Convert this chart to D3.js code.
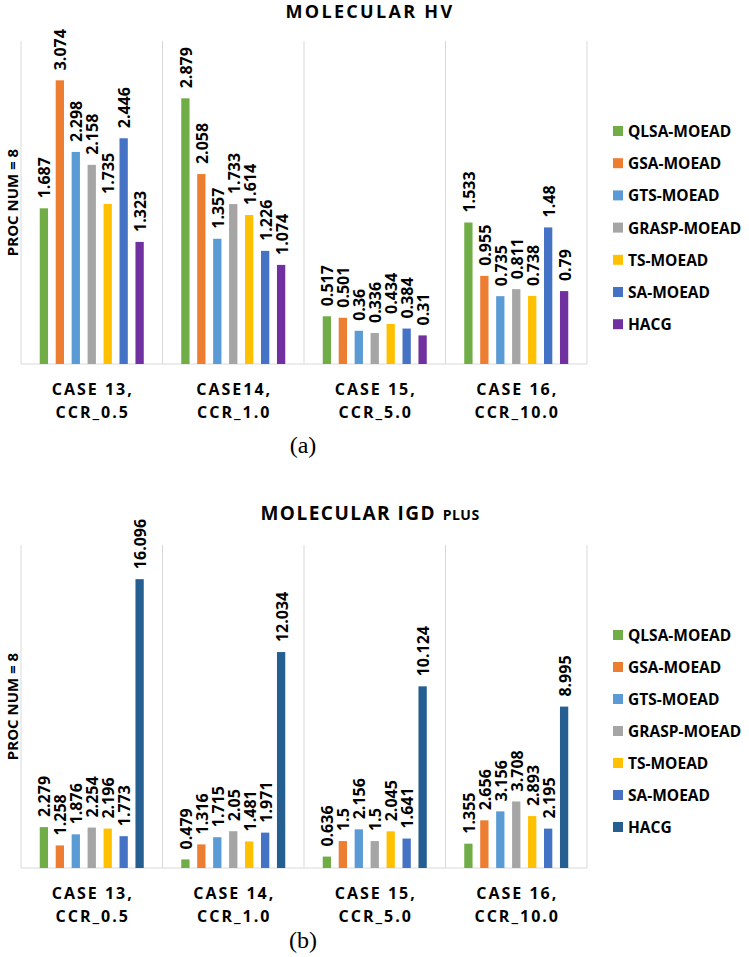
<!DOCTYPE html>
<html>
<head>
<meta charset="utf-8">
<script src="https://cdn.jsdelivr.net/npm/d3@7"></script>
<style>
  html, body { margin: 0; padding: 0; background: #fff; }
  svg { display: block; }
  text { font-family: "Open Sans", Lato, sans-serif; }
</style>
</head>
<body>
<svg id="chart" width="749" height="957"></svg>
<script>
// ---------- data ----------
const series = ["QLSA-MOEAD", "GSA-MOEAD", "GTS-MOEAD", "GRASP-MOEAD", "TS-MOEAD", "SA-MOEAD", "HACG"];

const categoriesHV  = [["CASE 13,", "CCR_0.5"], ["CASE14,", "CCR_1.0"], ["CASE 15,", "CCR_5.0"], ["CASE 16,", "CCR_10.0"]];
const categoriesIGD = [["CASE 13,", "CCR_0.5"], ["CASE 14,", "CCR_1.0"], ["CASE 15,", "CCR_5.0"], ["CASE 16,", "CCR_10.0"]];

const hvQLSA  = [1.687, 2.879, 0.517, 1.533];
const hvGSA   = [3.074, 2.058, 0.501, 0.955];
const hvGTS   = [2.298, 1.357, 0.36, 0.735];
const hvGRASP = [2.158, 1.733, 0.336, 0.811];
const hvTS    = [1.735, 1.614, 0.434, 0.738];
const hvSA    = [2.446, 1.226, 0.384, 1.48];
const hvHACG  = [1.323, 1.074, 0.31, 0.79];

const igdQLSA  = [2.279, 0.479, 0.636, 1.355];
const igdGSA   = [1.258, 1.316, 1.5, 2.656];
const igdGTS   = [1.876, 1.715, 2.156, 3.156];
const igdGRASP = [2.254, 2.05, 1.5, 3.708];
const igdTS    = [2.196, 1.481, 2.045, 2.893];
const igdSA    = [1.773, 1.971, 1.641, 2.195];
const igdHACG  = [16.096, 12.034, 10.124, 8.995];

const hvMax = 3.5;
const igdMax = 18;

const colorsHV  = ["#70AD47", "#ED7D31", "#5B9BD5", "#A5A5A5", "#FFC000", "#4472C4", "#7030A0"];
const colorsIGD = ["#70AD47", "#ED7D31", "#5B9BD5", "#A5A5A5", "#FFC000", "#4472C4", "#255E91"];

// ---------- drawing ----------
const svg = d3.select("#chart");

function drawChart(cfg) {
  const g = svg.append("g");
  const catKeys = cfg.categories.map(c => c.join(" "));
  const x0 = d3.scaleBand().domain(catKeys).range([21, 587]).paddingInner(0).paddingOuter(0);
  const x1 = d3.scaleBand().domain(series).range([0, x0.bandwidth()]).paddingInner(0.48).paddingOuter(1.175);
  const y = d3.scaleLinear().domain([0, cfg.max]).range([cfg.base, cfg.top]);

  // vertical category separators
  const seps = catKeys.map(k => x0(k)).concat([x0.range()[1]]);
  g.selectAll("line.sep").data(seps).join("line")
    .attr("x1", d => d).attr("x2", d => d)
    .attr("y1", y(cfg.max)).attr("y2", y(0))
    .attr("stroke", "#d9d9d9").attr("stroke-width", 1);
  // baseline
  g.append("line")
    .attr("x1", x0.range()[0]).attr("x2", x0.range()[1])
    .attr("y1", y(0)).attr("y2", y(0))
    .attr("stroke", "#d9d9d9").attr("stroke-width", 1.2);

  // bars + labels
  const rows = [];
  cfg.values.forEach((vals, si) => {
    vals.forEach((v, ci) => rows.push({ s: series[si], si, c: catKeys[ci], v }));
  });
  g.selectAll("rect.bar").data(rows).join("rect")
    .attr("x", d => x0(d.c) + x1(d.s))
    .attr("y", d => y(d.v))
    .attr("width", x1.bandwidth())
    .attr("height", d => y(0) - y(d.v))
    .attr("fill", d => cfg.colors[d.si]);
  g.selectAll("text.val").data(rows).join("text")
    .attr("transform", d => `translate(${x0(d.c) + x1(d.s) + x1.bandwidth() / 2 + 0.5},${y(d.v) - 10}) rotate(-90)`)
    .attr("text-anchor", "start")
    .attr("dominant-baseline", "central")
    .attr("font-size", 16).attr("font-weight", 700).attr("fill", "#000")
    .text(d => String(d.v));

  // category labels (two lines)
  cfg.categories.forEach((lines, i) => {
    const cx = x0(catKeys[i]) + x0.bandwidth() / 2 + 1;
    lines.forEach((ln, j) => {
      g.append("text")
        .attr("x", cx).attr("y", y(0) + 31 + j * 23)
        .attr("text-anchor", "middle")
        .attr("font-size", 16).attr("font-weight", 700)
        .attr("letter-spacing", "2px").attr("fill", "#000")
        .text(ln);
    });
  });

  // y axis title
  g.append("text")
    .attr("transform", `translate(11.5,${(y(0) + y(cfg.max)) / 2}) rotate(-90)`)
    .attr("text-anchor", "middle").attr("dominant-baseline", "central")
    .attr("font-size", 15).attr("font-weight", 700).attr("fill", "#000")
    .text("PROC NUM = 8");

  // legend
  const lg = g.selectAll("g.leg").data(series).join("g")
    .attr("transform", (d, i) => `translate(613,${cfg.legTop + i * cfg.legStep})`);
  lg.append("rect").attr("x", 0).attr("y", -5).attr("width", 10).attr("height", 10)
    .attr("fill", (d, i) => cfg.colors[i]);
  lg.append("text").attr("x", 15).attr("y", 0).attr("dominant-baseline", "central")
    .attr("font-size", 15.5).attr("font-weight", 700).attr("fill", "#000")
    .text(d => d);

  // title
  const t = g.append("text")
    .attr("x", 370).attr("y", cfg.titleY)
    .attr("text-anchor", "middle").attr("font-weight", 700).attr("fill", "#000");
  cfg.title.forEach(p => {
    t.append("tspan").attr("font-size", p.size).attr("letter-spacing", p.ls).text(p.text);
  });

  // caption
  g.append("text")
    .attr("x", 303).attr("y", cfg.capY)
    .attr("text-anchor", "middle")
    .style("font-family", "'Liberation Serif', 'DejaVu Serif', serif")
    .attr("font-size", 24).attr("fill", "#000")
    .text(cfg.caption);
}

drawChart({
  categories: categoriesHV,
  values: [hvQLSA, hvGSA, hvGTS, hvGRASP, hvTS, hvSA, hvHACG],
  colors: colorsHV,
  max: hvMax, top: 41, base: 364,
  legTop: 131, legStep: 32.2,
  title: [{ text: "MOLECULAR HV", size: 18, ls: "2.3px" }],
  titleY: 18,
  caption: "(a)", capY: 453
});

drawChart({
  categories: categoriesIGD,
  values: [igdQLSA, igdGSA, igdGTS, igdGRASP, igdTS, igdSA, igdHACG],
  colors: colorsIGD,
  max: igdMax, top: 545, base: 868,
  legTop: 635, legStep: 32,
  title: [{ text: "MOLECULAR IGD ", size: 19, ls: "1.5px" }, { text: "PLUS", size: 14, ls: "0.5px" }],
  titleY: 519.5,
  caption: "(b)", capY: 948
});
</script>
</body>
</html>
